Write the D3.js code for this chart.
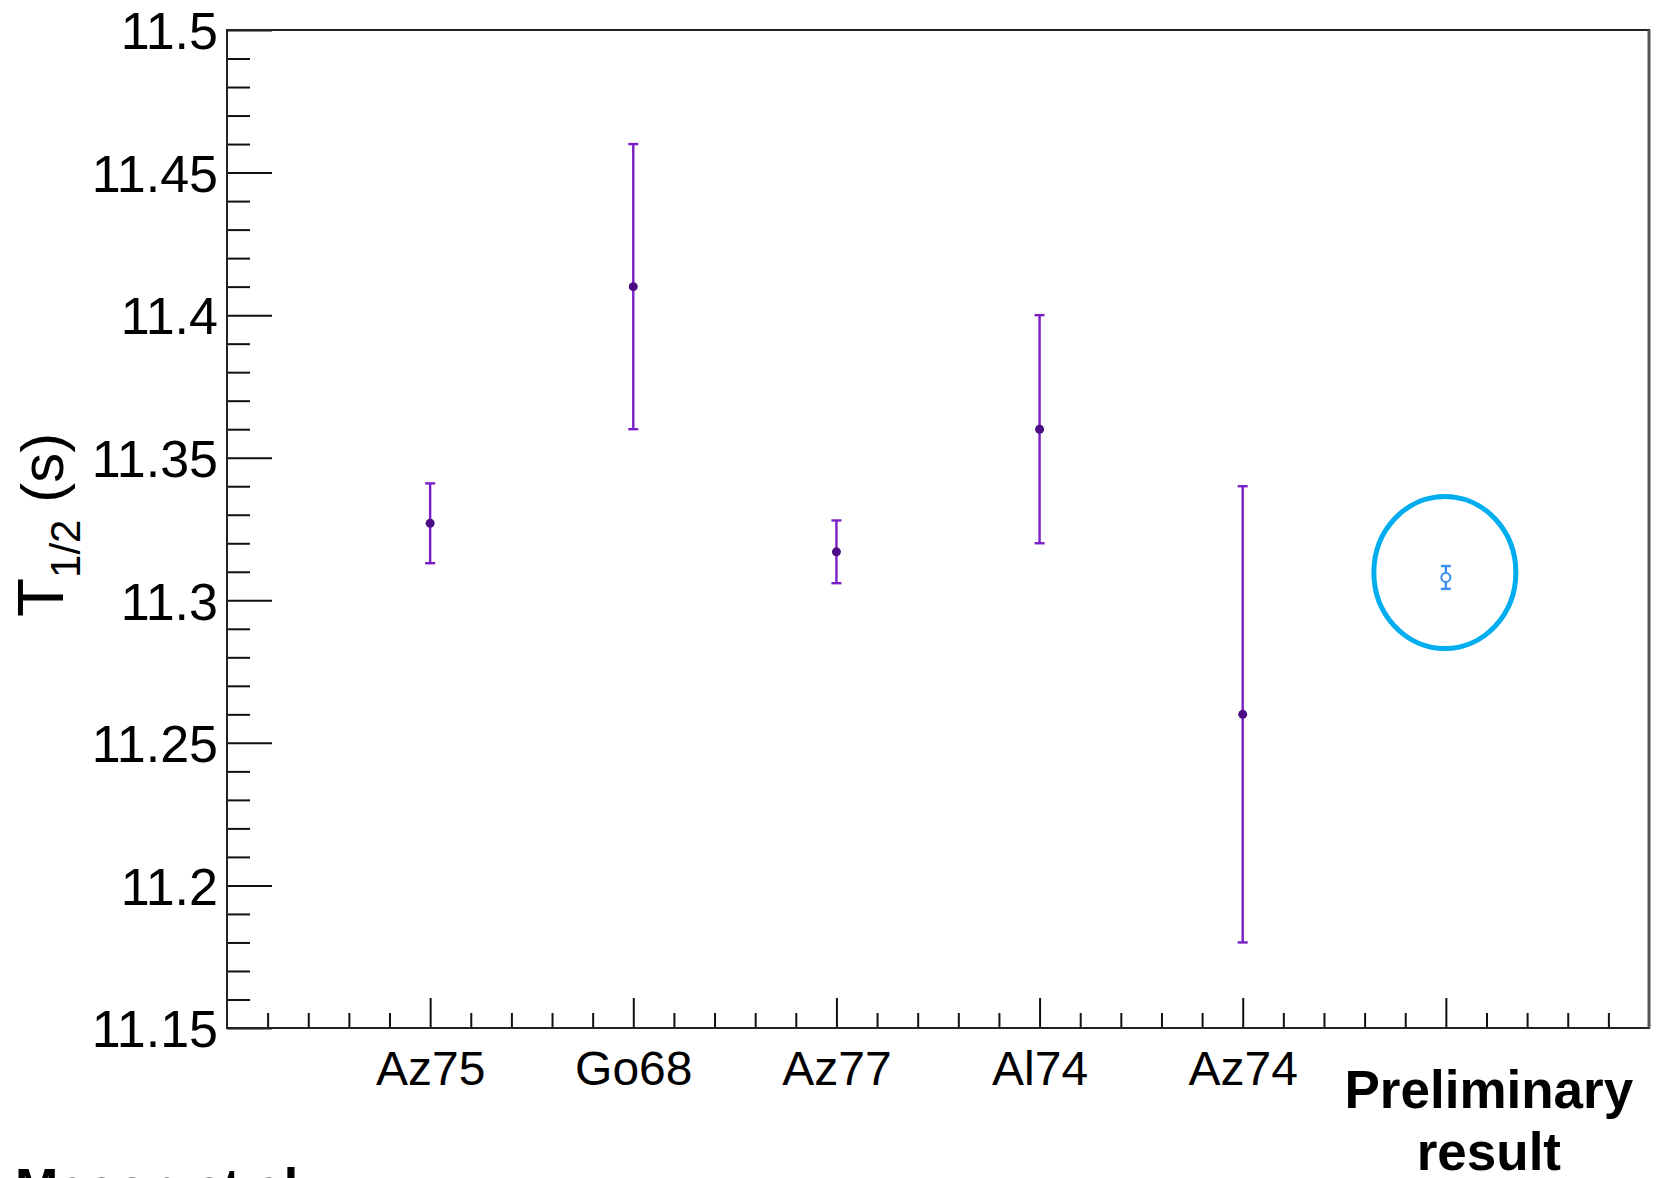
<!DOCTYPE html>
<html>
<head>
<meta charset="utf-8">
<script src="https://cdn.jsdelivr.net/npm/d3@7"></script>
<style>
  html, body { margin: 0; padding: 0; background: #fff; }
  svg { display: block; font-family: "Liberation Sans", Arial, sans-serif; }
</style>
</head>
<body>
<svg id="chart" width="1663" height="1178"></svg>
<script>
// Half-life measurements, T1/2 in seconds
const references = ["Az75", "Go68", "Az77", "Al74", "Az74"];
const halfLives = [11.327, 11.41, 11.317, 11.36, 11.26];
const halfLifeErrors = [0.014, 0.05, 0.011, 0.04, 0.08];

// This work
const prelimLabel = ["Preliminary", "result"];
const prelimValue = [11.308];
const prelimError = [0.004];

// Axis tick values
const yMajorTicks = [11.15, 11.2, 11.25, 11.3, 11.35, 11.4, 11.45, 11.5];
const yTickLabels = ["11.15", "11.2", "11.25", "11.3", "11.35", "11.4", "11.45", "11.5"];

const svg = d3.select("#chart");
const frame = { left: 227, right: 1649, top: 30, bottom: 1028 };

const x = d3.scaleLinear().domain([0, 7]).range([frame.left, frame.right]);
const y = d3.scaleLinear().domain([11.15, 11.5]).range([frame.bottom, frame.top]);

// minor ticks
const yMinor = d3.range(0, 36).map(i => +(11.15 + i * 0.01).toFixed(2))
  .filter(v => !yMajorTicks.some(m => Math.abs(m - v) < 1e-9));
const xMinor = d3.range(0, 36).map(i => +(i * 0.2).toFixed(1))
  .filter(v => Math.abs(v - Math.round(v)) > 1e-9);

// y axis: minor ticks
svg.append("g")
  .attr("transform", `translate(${frame.left},0)`)
  .call(d3.axisLeft(y).tickValues(yMinor).tickSizeInner(-23).tickSizeOuter(0).tickFormat(""))
  .call(g => g.select(".domain").remove())
  .call(g => g.selectAll("line").attr("stroke", "#111").attr("stroke-width", 2));

// y axis: major ticks + labels
svg.append("g")
  .attr("transform", `translate(${frame.left},0)`)
  .call(d3.axisLeft(y).tickValues(yMajorTicks).tickSizeInner(-45).tickSizeOuter(0).tickPadding(9)
    .tickFormat((d, i) => yTickLabels[i]))
  .call(g => g.select(".domain").remove())
  .call(g => g.selectAll("line").attr("stroke", "#111").attr("stroke-width", 2))
  .call(g => g.selectAll("text")
    .attr("font-size", 52).attr("fill", "#000")
    .attr("font-family", "'Liberation Sans', Arial, sans-serif")
    .attr("dy", "0.36em"));

// x axis: minor ticks
svg.append("g")
  .attr("transform", `translate(0,${frame.bottom})`)
  .call(d3.axisBottom(x).tickValues(xMinor).tickSizeInner(-15).tickSizeOuter(0).tickFormat(""))
  .call(g => g.select(".domain").remove())
  .call(g => g.selectAll("line").attr("stroke", "#111").attr("stroke-width", 2));

// x axis: major ticks + reference labels
svg.append("g")
  .attr("transform", `translate(0,${frame.bottom})`)
  .call(d3.axisBottom(x).tickValues([1, 2, 3, 4, 5, 6]).tickSizeInner(-30).tickSizeOuter(0).tickPadding(23)
    .tickFormat(d => references[d - 1] || ""))
  .call(g => g.select(".domain").remove())
  .call(g => g.selectAll("line").attr("stroke", "#111").attr("stroke-width", 2))
  .call(g => g.selectAll("text")
    .attr("font-size", 48).attr("fill", "#000")
    .attr("font-family", "'Liberation Sans', Arial, sans-serif"));

// plot frame
svg.append("rect")
  .attr("x", frame.left).attr("y", frame.top)
  .attr("width", frame.right - frame.left).attr("height", frame.bottom - frame.top)
  .attr("fill", "none").attr("stroke", "#222").attr("stroke-width", 2);
svg.append("line")
  .attr("x1", frame.right).attr("x2", frame.right)
  .attr("y1", frame.top).attr("y2", frame.bottom)
  .attr("stroke", "#555").attr("stroke-width", 3);

// error bars with caps
function drawPoints(vals, errs, xPos, color, markerFill, open) {
  const g = svg.append("g");
  const cap = 5;
  vals.forEach((v, i) => {
    const cx = x(xPos(i));
    const lo = y(v - errs[i]), hi = y(v + errs[i]);
    g.append("line").attr("x1", cx).attr("x2", cx).attr("y1", hi).attr("y2", lo)
      .attr("stroke", color).attr("stroke-width", 2.4);
    [hi, lo].forEach(yy => g.append("line")
      .attr("x1", cx - cap).attr("x2", cx + cap).attr("y1", yy).attr("y2", yy)
      .attr("stroke", color).attr("stroke-width", 2.4));
    g.append("circle").attr("cx", cx).attr("cy", y(v))
      .attr("r", open ? 4.5 : 4.5)
      .attr("fill", open ? "#fff" : markerFill)
      .attr("stroke", open ? color : "none")
      .attr("stroke-width", 2);
  });
}

drawPoints(halfLives, halfLifeErrors, i => i + 1, "#7a1fc8", "#4c0c86", false);
drawPoints(prelimValue, prelimError, () => 6, "#3a8ff0", "#fff", true);

// highlight ring around the new result
svg.append("ellipse")
  .attr("cx", x(6) - 1).attr("cy", y(prelimValue[0]) - 5)
  .attr("rx", 71).attr("ry", 76)
  .attr("fill", "none").attr("stroke", "#00aeef").attr("stroke-width", 5);

// label of the new result
svg.append("text")
  .attr("x", x(6) + 44).attr("y", 1108)
  .attr("text-anchor", "middle").attr("font-size", 53).attr("font-weight", "bold")
  .selectAll("tspan").data(prelimLabel).join("tspan")
  .attr("x", x(6) + 43).attr("dy", (d, i) => i === 0 ? 0 : 62)
  .text(d => d);

// y axis title: T_{1/2} (s)
const title = svg.append("text")
  .attr("transform", "translate(63,617) rotate(-90)")
  .attr("font-size", 64).attr("fill", "#000");
title.append("tspan").text("T");
title.append("tspan").attr("font-size", 42).attr("dy", 17).text("1/2");
title.append("tspan").attr("dy", -17).attr("font-size", 60).text("\u00a0(s)");

// footnote at the bottom edge
svg.append("text")
  .attr("x", 15).attr("y", 1205)
  .attr("font-size", 52).attr("font-weight", "bold")
  .text("Mason et al.");
</script>
</body>
</html>
